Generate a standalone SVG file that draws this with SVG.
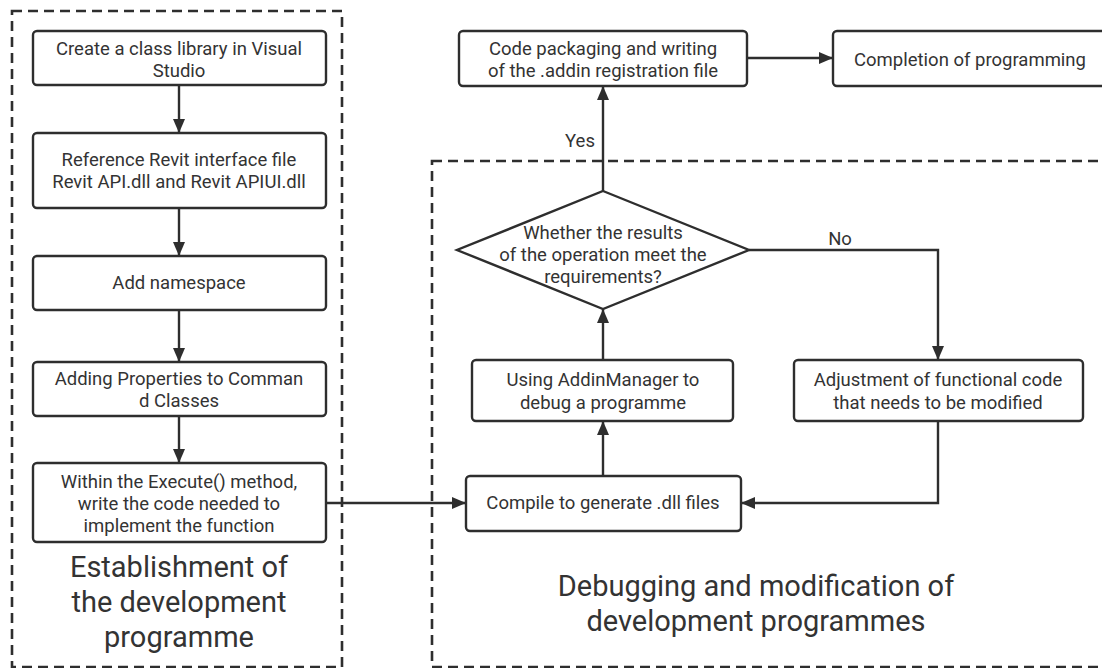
<svg xmlns="http://www.w3.org/2000/svg" width="1102" height="668" viewBox="0 0 1102 668">
<defs>
<style>
.box{fill:#fff;stroke:#2e2e2e;stroke-width:2.4}
.dash{fill:none;stroke:#2e2e2e;stroke-width:2.6;stroke-dasharray:10 6}
.t{font-family:Roboto,"Open Sans",sans-serif;font-size:18.5px;fill:#333;text-anchor:middle}
.title{font-family:Roboto,"Open Sans",sans-serif;font-size:29px;fill:#333;text-anchor:middle}
.c{fill:none;stroke:#2e2e2e;stroke-width:2.4}
</style>
<marker id="ah" viewBox="0 0 14 12" refX="14" refY="6" markerWidth="14" markerHeight="12" markerUnits="userSpaceOnUse" orient="auto">
<path d="M0,0 L14,6 L0,12 Z" fill="#2e2e2e"/>
</marker>
</defs>
<rect width="1102" height="668" fill="#fff"/>
<g id="groups">
<rect class="dash" x="12" y="11" width="330" height="656"/>
<rect class="dash" x="432" y="161" width="720" height="506"/>
<text class="title" x="179" y="577">Establishment of</text>
<text class="title" x="179" y="612">the development</text>
<text class="title" x="179" y="647">programme</text>
<text class="title" x="756" y="596">Debugging and modification of</text>
<text class="title" x="756" y="631">development programmes</text>
</g>
<g id="connectors">
<path class="c" d="M179,85 V133" marker-end="url(#ah)"/>
<path class="c" d="M179,208 V256" marker-end="url(#ah)"/>
<path class="c" d="M179,310 V362" marker-end="url(#ah)"/>
<path class="c" d="M179,416 V463" marker-end="url(#ah)"/>
<path class="c" d="M326,503 H466" marker-end="url(#ah)"/>
<path class="c" d="M603,476 V421" marker-end="url(#ah)"/>
<path class="c" d="M603,360 V309" marker-end="url(#ah)"/>
<path class="c" d="M603,191 V86" marker-end="url(#ah)"/>
<path class="c" d="M747,58 H833" marker-end="url(#ah)"/>
<path class="c" d="M749,250 H938 V360" marker-end="url(#ah)"/>
<path class="c" d="M938,421 V503 H741" marker-end="url(#ah)"/>
<text class="t" x="580" y="147">Yes</text>
<text class="t" x="840" y="245">No</text>
</g>
<g id="n1"><rect class="box" x="33" y="31" width="293" height="54" rx="4"/><text class="t" x="179" y="55">Create a class library in Visual</text><text class="t" x="179" y="77">Studio</text></g>
<g id="n2"><rect class="box" x="33" y="133" width="293" height="75" rx="4"/><text class="t" x="179" y="166">Reference Revit interface file</text><text class="t" x="179" y="188">Revit API.dll and Revit APIUI.dll</text></g>
<g id="n3"><rect class="box" x="33" y="256" width="293" height="54" rx="4"/><text class="t" x="179" y="289">Add namespace</text></g>
<g id="n4"><rect class="box" x="33" y="362" width="293" height="54" rx="4"/><text class="t" x="179" y="385">Adding Properties to Comman</text><text class="t" x="179" y="407">d Classes</text></g>
<g id="n5"><rect class="box" x="33" y="463" width="293" height="79" rx="4"/><text class="t" x="179" y="488">Within the Execute() method,</text><text class="t" x="179" y="510">write the code needed to</text><text class="t" x="179" y="532">implement the function</text></g>
<g id="n6"><rect class="box" x="459" y="31" width="288" height="55" rx="4"/><text class="t" x="603" y="55">Code packaging and writing</text><text class="t" x="603" y="77">of the .addin registration file</text></g>
<g id="n7"><rect class="box" x="833" y="31" width="274" height="55" rx="4"/><text class="t" x="970" y="66">Completion of programming</text></g>
<g id="n8"><polygon class="box" points="603,191 749,250 603,309 457,250"/><text class="t" x="603" y="239">Whether the results</text><text class="t" x="603" y="261">of the operation meet the</text><text class="t" x="603" y="283">requirements?</text></g>
<g id="n9"><rect class="box" x="472" y="360" width="261" height="61" rx="4"/><text class="t" x="603" y="386">Using AddinManager to</text><text class="t" x="603" y="409">debug a programme</text></g>
<g id="n10"><rect class="box" x="794" y="360" width="289" height="61" rx="4"/><text class="t" x="938" y="386">Adjustment of functional code</text><text class="t" x="938" y="409">that needs to be modified</text></g>
<g id="n11"><rect class="box" x="466" y="476" width="275" height="55" rx="4"/><text class="t" x="603" y="509">Compile to generate .dll files</text></g>
</svg>
